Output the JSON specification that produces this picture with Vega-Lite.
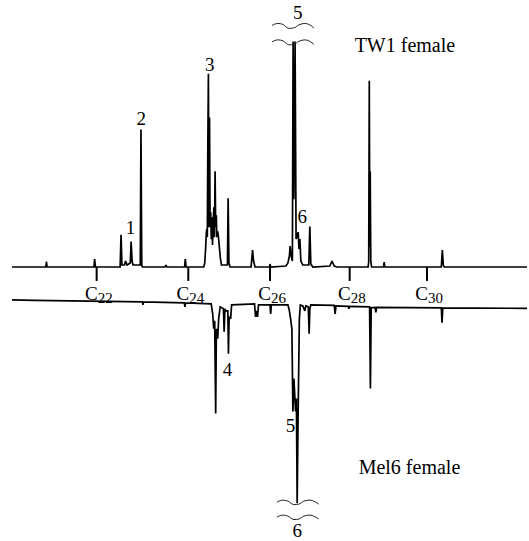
{
  "$schema": "https://vega.github.io/schema/vega-lite/v6.json",
  "width": 529,
  "height": 541,
  "autosize": {"type": "fit", "contains": "padding"},
  "padding": 0,
  "background": "white",
  "config": {"view": {"stroke": null}},
  "datasets": {
    "traces": [
      {"sample": "TW1 female", "t": 12, "s": 0}, {"sample": "TW1 female", "t": 46, "s": 0}, {"sample": "TW1 female", "t": 46.6, "s": 5.3}, {"sample": "TW1 female", "t": 47.3, "s": 0},
      {"sample": "TW1 female", "t": 94.3, "s": 0}, {"sample": "TW1 female", "t": 95, "s": 8}, {"sample": "TW1 female", "t": 95.8, "s": 0},
      {"sample": "TW1 female", "t": 120.6, "s": 0}, {"sample": "TW1 female", "t": 121.5, "s": 32.3}, {"sample": "TW1 female", "t": 122.4, "s": 2},
      {"sample": "TW1 female", "t": 125, "s": 2}, {"sample": "TW1 female", "t": 126, "s": 6}, {"sample": "TW1 female", "t": 127.5, "s": 2},
      {"sample": "TW1 female", "t": 130.8, "s": 4}, {"sample": "TW1 female", "t": 131.6, "s": 25.6}, {"sample": "TW1 female", "t": 132.6, "s": 6}, {"sample": "TW1 female", "t": 133.5, "s": 2},
      {"sample": "TW1 female", "t": 140.8, "s": 2}, {"sample": "TW1 female", "t": 141.5, "s": 138}, {"sample": "TW1 female", "t": 142.3, "s": 2}, {"sample": "TW1 female", "t": 143, "s": 0},
      {"sample": "TW1 female", "t": 165.5, "s": 0}, {"sample": "TW1 female", "t": 166.5, "s": 2}, {"sample": "TW1 female", "t": 167.5, "s": 0},
      {"sample": "TW1 female", "t": 185.3, "s": 0}, {"sample": "TW1 female", "t": 186, "s": 8}, {"sample": "TW1 female", "t": 186.8, "s": 0},
      {"sample": "TW1 female", "t": 204.5, "s": 0}, {"sample": "TW1 female", "t": 205.5, "s": 4}, {"sample": "TW1 female", "t": 206.5, "s": 20}, {"sample": "TW1 female", "t": 207, "s": 32},
      {"sample": "TW1 female", "t": 207.5, "s": 38}, {"sample": "TW1 female", "t": 208.1, "s": 30}, {"sample": "TW1 female", "t": 208.6, "s": 120}, {"sample": "TW1 female", "t": 209.2, "s": 194},
      {"sample": "TW1 female", "t": 209.7, "s": 40}, {"sample": "TW1 female", "t": 210.3, "s": 150}, {"sample": "TW1 female", "t": 210.9, "s": 40},
      {"sample": "TW1 female", "t": 211.5, "s": 55}, {"sample": "TW1 female", "t": 212.1, "s": 28}, {"sample": "TW1 female", "t": 212.7, "s": 50}, {"sample": "TW1 female", "t": 213.3, "s": 22},
      {"sample": "TW1 female", "t": 214, "s": 45}, {"sample": "TW1 female", "t": 214.7, "s": 60}, {"sample": "TW1 female", "t": 215.3, "s": 30}, {"sample": "TW1 female", "t": 215.9, "s": 96},
      {"sample": "TW1 female", "t": 216.5, "s": 40}, {"sample": "TW1 female", "t": 217.1, "s": 52}, {"sample": "TW1 female", "t": 217.7, "s": 30}, {"sample": "TW1 female", "t": 218.4, "s": 36},
      {"sample": "TW1 female", "t": 219.2, "s": 31}, {"sample": "TW1 female", "t": 220.2, "s": 20}, {"sample": "TW1 female", "t": 221.2, "s": 9}, {"sample": "TW1 female", "t": 222.3, "s": 2},
      {"sample": "TW1 female", "t": 228.3, "s": 2}, {"sample": "TW1 female", "t": 229, "s": 69}, {"sample": "TW1 female", "t": 229.8, "s": 4}, {"sample": "TW1 female", "t": 231, "s": 0},
      {"sample": "TW1 female", "t": 252, "s": 0}, {"sample": "TW1 female", "t": 253, "s": 11}, {"sample": "TW1 female", "t": 253.5, "s": 17}, {"sample": "TW1 female", "t": 254.5, "s": 6}, {"sample": "TW1 female", "t": 256, "s": 0},
      {"sample": "TW1 female", "t": 270.5, "s": 0}, {"sample": "TW1 female", "t": 271, "s": 3}, {"sample": "TW1 female", "t": 271.7, "s": 0},
      {"sample": "TW1 female", "t": 287, "s": 1}, {"sample": "TW1 female", "t": 289, "s": 4}, {"sample": "TW1 female", "t": 290.5, "s": 11}, {"sample": "TW1 female", "t": 291.2, "s": 21},
      {"sample": "TW1 female", "t": 292.5, "s": 10}, {"sample": "TW1 female", "t": 293.5, "s": 6}, {"sample": "TW1 female", "t": 294.2, "s": 226.3}, {"sample": "TW1 female", "t": 295, "s": 68},
      {"sample": "TW1 female", "t": 296.2, "s": 226.3}, {"sample": "TW1 female", "t": 297.2, "s": 28}, {"sample": "TW1 female", "t": 299.3, "s": 35}, {"sample": "TW1 female", "t": 300.1, "s": 18},
      {"sample": "TW1 female", "t": 301, "s": 28}, {"sample": "TW1 female", "t": 302, "s": 6}, {"sample": "TW1 female", "t": 304, "s": 2},
      {"sample": "TW1 female", "t": 310, "s": 2}, {"sample": "TW1 female", "t": 311, "s": 40.7}, {"sample": "TW1 female", "t": 312, "s": 3}, {"sample": "TW1 female", "t": 314, "s": 0},
      {"sample": "TW1 female", "t": 331, "s": 1}, {"sample": "TW1 female", "t": 333.3, "s": 6}, {"sample": "TW1 female", "t": 335.5, "s": 1}, {"sample": "TW1 female", "t": 338, "s": 0},
      {"sample": "TW1 female", "t": 369.5, "s": 0}, {"sample": "TW1 female", "t": 370.1, "s": 5}, {"sample": "TW1 female", "t": 370.7, "s": 187}, {"sample": "TW1 female", "t": 371.2, "s": 20},
      {"sample": "TW1 female", "t": 371.6, "s": 96}, {"sample": "TW1 female", "t": 372.2, "s": 6}, {"sample": "TW1 female", "t": 373, "s": 0},
      {"sample": "TW1 female", "t": 385, "s": 0}, {"sample": "TW1 female", "t": 385.6, "s": 5}, {"sample": "TW1 female", "t": 386.3, "s": 0},
      {"sample": "TW1 female", "t": 443, "s": 0}, {"sample": "TW1 female", "t": 444, "s": 17}, {"sample": "TW1 female", "t": 445, "s": 2}, {"sample": "TW1 female", "t": 446, "s": 0},
      {"sample": "TW1 female", "t": 529, "s": 0},

      {"sample": "Mel6 female", "t": 12, "s": -33}, {"sample": "Mel6 female", "t": 35, "s": -33.5},
      {"sample": "Mel6 female", "t": 143, "s": -35}, {"sample": "Mel6 female", "t": 143.5, "s": -38}, {"sample": "Mel6 female", "t": 144, "s": -35},
      {"sample": "Mel6 female", "t": 185, "s": -36}, {"sample": "Mel6 female", "t": 185.7, "s": -40}, {"sample": "Mel6 female", "t": 186.3, "s": -36},
      {"sample": "Mel6 female", "t": 212, "s": -37}, {"sample": "Mel6 female", "t": 213.5, "s": -47}, {"sample": "Mel6 female", "t": 214.5, "s": -62}, {"sample": "Mel6 female", "t": 215.5, "s": -54},
      {"sample": "Mel6 female", "t": 216.5, "s": -147}, {"sample": "Mel6 female", "t": 217.2, "s": -62}, {"sample": "Mel6 female", "t": 218.5, "s": -72}, {"sample": "Mel6 female", "t": 219.5, "s": -52},
      {"sample": "Mel6 female", "t": 221, "s": -40}, {"sample": "Mel6 female", "t": 224.3, "s": -42}, {"sample": "Mel6 female", "t": 225, "s": -65}, {"sample": "Mel6 female", "t": 225.8, "s": -42},
      {"sample": "Mel6 female", "t": 226.7, "s": -44}, {"sample": "Mel6 female", "t": 228.7, "s": -44}, {"sample": "Mel6 female", "t": 229.3, "s": -87}, {"sample": "Mel6 female", "t": 230, "s": -50},
      {"sample": "Mel6 female", "t": 231.5, "s": -52}, {"sample": "Mel6 female", "t": 232.5, "s": -38},
      {"sample": "Mel6 female", "t": 255.5, "s": -37}, {"sample": "Mel6 female", "t": 256.5, "s": -50}, {"sample": "Mel6 female", "t": 257.5, "s": -44}, {"sample": "Mel6 female", "t": 258.5, "s": -50}, {"sample": "Mel6 female", "t": 259.5, "s": -38},
      {"sample": "Mel6 female", "t": 271, "s": -38}, {"sample": "Mel6 female", "t": 271.7, "s": -47}, {"sample": "Mel6 female", "t": 272.4, "s": -38},
      {"sample": "Mel6 female", "t": 289, "s": -38}, {"sample": "Mel6 female", "t": 290.5, "s": -44}, {"sample": "Mel6 female", "t": 291.7, "s": -52}, {"sample": "Mel6 female", "t": 293, "s": -62},
      {"sample": "Mel6 female", "t": 294, "s": -145}, {"sample": "Mel6 female", "t": 295, "s": -112}, {"sample": "Mel6 female", "t": 296.7, "s": -145}, {"sample": "Mel6 female", "t": 297.5, "s": -132},
      {"sample": "Mel6 female", "t": 298.3, "s": -237}, {"sample": "Mel6 female", "t": 299.2, "s": -152}, {"sample": "Mel6 female", "t": 300.5, "s": -52}, {"sample": "Mel6 female", "t": 301.5, "s": -38},
      {"sample": "Mel6 female", "t": 304, "s": -39}, {"sample": "Mel6 female", "t": 306, "s": -44}, {"sample": "Mel6 female", "t": 307, "s": -39},
      {"sample": "Mel6 female", "t": 309.5, "s": -40}, {"sample": "Mel6 female", "t": 310.3, "s": -67}, {"sample": "Mel6 female", "t": 311, "s": -42}, {"sample": "Mel6 female", "t": 312, "s": -38},
      {"sample": "Mel6 female", "t": 335.5, "s": -38.5}, {"sample": "Mel6 female", "t": 336.4, "s": -47}, {"sample": "Mel6 female", "t": 337.3, "s": -39},
      {"sample": "Mel6 female", "t": 349.5, "s": -39.5}, {"sample": "Mel6 female", "t": 350.2, "s": -42}, {"sample": "Mel6 female", "t": 351, "s": -39.5},
      {"sample": "Mel6 female", "t": 371, "s": -40}, {"sample": "Mel6 female", "t": 371.8, "s": -122}, {"sample": "Mel6 female", "t": 372.6, "s": -41},
      {"sample": "Mel6 female", "t": 376.5, "s": -40.5}, {"sample": "Mel6 female", "t": 377.3, "s": -45.5}, {"sample": "Mel6 female", "t": 378, "s": -40.5},
      {"sample": "Mel6 female", "t": 443, "s": -41}, {"sample": "Mel6 female", "t": 443.7, "s": -56}, {"sample": "Mel6 female", "t": 444.5, "s": -41},
      {"sample": "Mel6 female", "t": 529, "s": -41.5}
    ],
    "breaks": [
      {"b": "top1", "t": 273, "s": 242.5}, {"b": "top1", "t": 279, "s": 244.5}, {"b": "top1", "t": 284, "s": 243.5}, {"b": "top1", "t": 290, "s": 239.5}, {"b": "top1", "t": 295, "s": 240}, {"b": "top1", "t": 300, "s": 243}, {"b": "top1", "t": 306, "s": 244.5}, {"b": "top1", "t": 311, "s": 243}, {"b": "top1", "t": 315, "s": 240},
      {"b": "top2", "t": 273, "s": 226}, {"b": "top2", "t": 279, "s": 228}, {"b": "top2", "t": 284, "s": 227}, {"b": "top2", "t": 290, "s": 223}, {"b": "top2", "t": 295, "s": 223.5}, {"b": "top2", "t": 300, "s": 226.5}, {"b": "top2", "t": 306, "s": 228}, {"b": "top2", "t": 311, "s": 226.5}, {"b": "top2", "t": 315, "s": 223.5},
      {"b": "bot1", "t": 278, "s": -236}, {"b": "bot1", "t": 284, "s": -234}, {"b": "bot1", "t": 289, "s": -235}, {"b": "bot1", "t": 295, "s": -238.5}, {"b": "bot1", "t": 300, "s": -238}, {"b": "bot1", "t": 305, "s": -235}, {"b": "bot1", "t": 311, "s": -234}, {"b": "bot1", "t": 316, "s": -235.5}, {"b": "bot1", "t": 320, "s": -238},
      {"b": "bot2", "t": 278, "s": -251}, {"b": "bot2", "t": 284, "s": -249}, {"b": "bot2", "t": 289, "s": -250}, {"b": "bot2", "t": 295, "s": -253.5}, {"b": "bot2", "t": 300, "s": -253}, {"b": "bot2", "t": 305, "s": -250}, {"b": "bot2", "t": 311, "s": -249}, {"b": "bot2", "t": 316, "s": -250.5}, {"b": "bot2", "t": 320, "s": -253}
    ],
    "alkanes": [
      {"t": 97, "sub": "22"}, {"t": 189, "sub": "24"}, {"t": 271, "sub": "26"}, {"t": 351, "sub": "28"}, {"t": 428.6, "sub": "30"}
    ],
    "peaks": [
      {"t": 131, "s": 33.5, "label": "1"},
      {"t": 141.7, "s": 143, "label": "2"},
      {"t": 210.5, "s": 197, "label": "3"},
      {"t": 299, "s": 248.5, "label": "5"},
      {"t": 303.5, "s": 44.5, "label": "6"},
      {"t": 228.3, "s": -109, "label": "4"},
      {"t": 291.7, "s": -166, "label": "5"},
      {"t": 298.3, "s": -271, "label": "6"}
    ],
    "samples": [
      {"t": 356, "s": 215.7, "label": "TW1 female"},
      {"t": 360, "s": -207.4, "label": "Mel6 female"}
    ]
  },
  "resolve": {"scale": {"x": "shared", "y": "shared"}},
  "layer": [
    {
      "data": {"name": "traces"},
      "mark": {"type": "line", "color": "black", "strokeWidth": 1.7, "strokeJoin": "miter", "strokeMiterLimit": 2},
      "encoding": {
        "x": {"field": "t", "type": "quantitative", "scale": {"domain": [0, 529], "nice": false, "zero": false}, "axis": null},
        "y": {"field": "s", "type": "quantitative", "scale": {"domain": [-273, 268], "nice": false, "zero": false}, "axis": null},
        "detail": {"field": "sample"},
        "order": {"field": "t", "type": "quantitative"}
      }
    },
    {
      "data": {"name": "breaks"},
      "mark": {"type": "line", "color": "#222", "strokeWidth": 1, "interpolate": "monotone"},
      "encoding": {
        "x": {"field": "t", "type": "quantitative"},
        "y": {"field": "s", "type": "quantitative"},
        "detail": {"field": "b"},
        "order": {"field": "t", "type": "quantitative"}
      }
    },
    {
      "data": {"name": "alkanes"},
      "mark": {"type": "rule", "color": "black", "strokeWidth": 2},
      "encoding": {
        "x": {"field": "t", "type": "quantitative"},
        "y": {"datum": 0, "type": "quantitative"},
        "y2": {"datum": -14}
      }
    },
    {
      "data": {"name": "alkanes"},
      "mark": {"type": "text", "text": "C", "font": "'Liberation Serif', 'DejaVu Serif', serif", "fontSize": 19, "align": "right", "baseline": "alphabetic", "dx": 1, "color": "black"},
      "encoding": {
        "x": {"field": "t", "type": "quantitative"},
        "y": {"datum": -33, "type": "quantitative"}
      }
    },
    {
      "data": {"name": "alkanes"},
      "mark": {"type": "text", "font": "'Liberation Serif', 'DejaVu Serif', serif", "fontSize": 15, "align": "left", "baseline": "alphabetic", "dx": 1, "color": "black"},
      "encoding": {
        "x": {"field": "t", "type": "quantitative"},
        "y": {"datum": -36, "type": "quantitative"},
        "text": {"field": "sub"}
      }
    },
    {
      "data": {"name": "peaks"},
      "mark": {"type": "text", "font": "'Liberation Serif', 'DejaVu Serif', serif", "fontSize": 19, "align": "center", "baseline": "alphabetic", "color": "black"},
      "encoding": {
        "x": {"field": "t", "type": "quantitative"},
        "y": {"field": "s", "type": "quantitative"},
        "text": {"field": "label"}
      }
    },
    {
      "data": {"name": "samples"},
      "mark": {"type": "text", "font": "'Liberation Serif', 'DejaVu Serif', serif", "fontSize": 20, "align": "left", "baseline": "alphabetic", "color": "black"},
      "encoding": {
        "x": {"field": "t", "type": "quantitative"},
        "y": {"field": "s", "type": "quantitative"},
        "text": {"field": "label"}
      }
    }
  ]
}
